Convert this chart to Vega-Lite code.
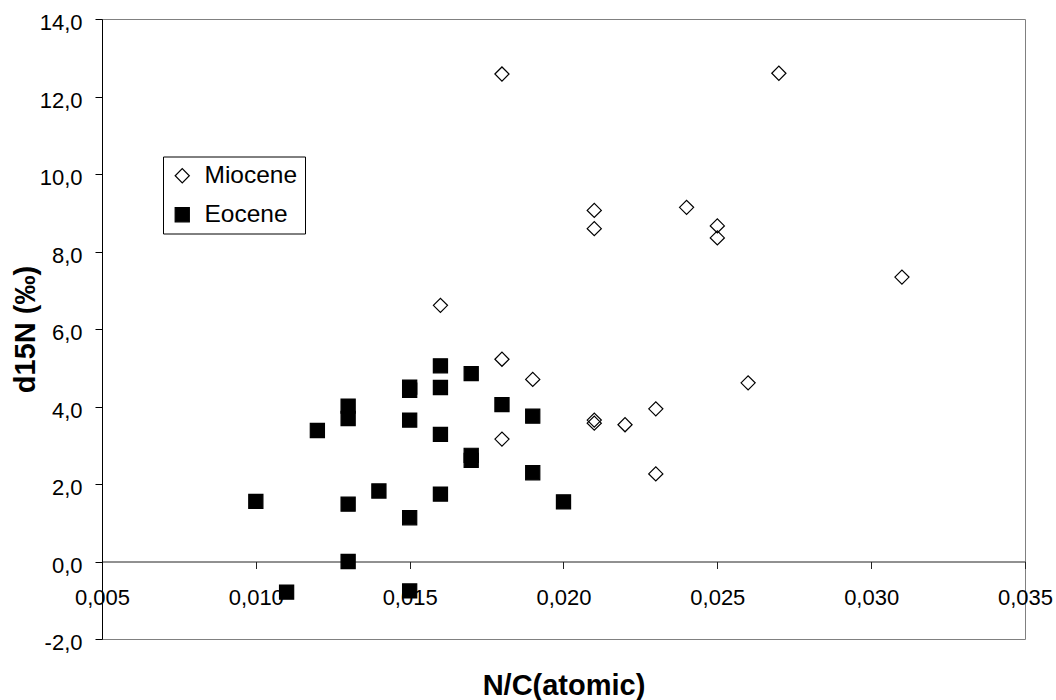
{
  "$schema": "https://vega.github.io/schema/vega-lite/v6.json",
  "width": 923,
  "height": 620,
  "autosize": {"type": "none"},
  "padding": {"left": 102, "top": 19, "right": 31, "bottom": 61},
  "config": {
    "locale": {"number": {"decimal": ",", "thousands": ".", "grouping": [3], "currency": ["", " €"], "minus": "-"}},
    "font": "Liberation Sans",
    "view": {"stroke": "#808080", "strokeWidth": 1},
    "axis": {"grid": false, "labelColor": "#000", "titleColor": "#000", "labelFont": "Liberation Sans", "titleFont": "Liberation Sans"},
    "legend": {
      "title": null,
      "orient": "none",
      "legendX": 61,
      "legendY": 137.5,
      "strokeColor": "#000",
      "fillColor": "#fff",
      "padding": 7,
      "labelFontSize": 24.5,
      "labelFont": "Liberation Sans",
      "labelColor": "#000",
      "labelOffset": 10,
      "rowPadding": 14,
      "symbolSize": 200,
      "symbolStrokeWidth": 1.2
    }
  },
  "data": {
    "values": [
      {"nc": 0.018, "d15n": 12.58, "epoch": "Miocene"},
      {"nc": 0.027, "d15n": 12.6, "epoch": "Miocene"},
      {"nc": 0.021, "d15n": 9.06, "epoch": "Miocene"},
      {"nc": 0.021, "d15n": 8.59, "epoch": "Miocene"},
      {"nc": 0.024, "d15n": 9.14, "epoch": "Miocene"},
      {"nc": 0.025, "d15n": 8.66, "epoch": "Miocene"},
      {"nc": 0.025, "d15n": 8.35, "epoch": "Miocene"},
      {"nc": 0.016, "d15n": 6.61, "epoch": "Miocene"},
      {"nc": 0.031, "d15n": 7.34, "epoch": "Miocene"},
      {"nc": 0.018, "d15n": 5.22, "epoch": "Miocene"},
      {"nc": 0.019, "d15n": 4.7, "epoch": "Miocene"},
      {"nc": 0.018, "d15n": 3.16, "epoch": "Miocene"},
      {"nc": 0.021, "d15n": 3.65, "epoch": "Miocene"},
      {"nc": 0.021, "d15n": 3.57, "epoch": "Miocene"},
      {"nc": 0.022, "d15n": 3.53, "epoch": "Miocene"},
      {"nc": 0.023, "d15n": 3.94, "epoch": "Miocene"},
      {"nc": 0.023, "d15n": 2.26, "epoch": "Miocene"},
      {"nc": 0.026, "d15n": 4.61, "epoch": "Miocene"},
      {"nc": 0.010, "d15n": 1.55, "epoch": "Eocene"},
      {"nc": 0.011, "d15n": -0.79, "epoch": "Eocene"},
      {"nc": 0.012, "d15n": 3.38, "epoch": "Eocene"},
      {"nc": 0.013, "d15n": 4.01, "epoch": "Eocene"},
      {"nc": 0.013, "d15n": 3.69, "epoch": "Eocene"},
      {"nc": 0.013, "d15n": 1.48, "epoch": "Eocene"},
      {"nc": 0.013, "d15n": 0.0, "epoch": "Eocene"},
      {"nc": 0.014, "d15n": 1.82, "epoch": "Eocene"},
      {"nc": 0.015, "d15n": 4.5, "epoch": "Eocene"},
      {"nc": 0.015, "d15n": 4.42, "epoch": "Eocene"},
      {"nc": 0.015, "d15n": 3.65, "epoch": "Eocene"},
      {"nc": 0.015, "d15n": 1.13, "epoch": "Eocene"},
      {"nc": 0.015, "d15n": -0.76, "epoch": "Eocene"},
      {"nc": 0.016, "d15n": 5.05, "epoch": "Eocene"},
      {"nc": 0.016, "d15n": 4.49, "epoch": "Eocene"},
      {"nc": 0.016, "d15n": 3.28, "epoch": "Eocene"},
      {"nc": 0.016, "d15n": 1.74, "epoch": "Eocene"},
      {"nc": 0.017, "d15n": 4.85, "epoch": "Eocene"},
      {"nc": 0.017, "d15n": 2.74, "epoch": "Eocene"},
      {"nc": 0.017, "d15n": 2.61, "epoch": "Eocene"},
      {"nc": 0.018, "d15n": 4.05, "epoch": "Eocene"},
      {"nc": 0.019, "d15n": 3.75, "epoch": "Eocene"},
      {"nc": 0.019, "d15n": 2.29, "epoch": "Eocene"},
      {"nc": 0.020, "d15n": 1.54, "epoch": "Eocene"}
    ]
  },
  "mark": {"type": "point", "filled": true, "strokeWidth": 1.2, "opacity": 1, "size": 200},
  "encoding": {
    "x": {
      "field": "nc", "type": "quantitative",
      "scale": {"domain": [0.005, 0.035], "nice": false, "zero": false},
      "axis": {
        "values": [0.005, 0.01, 0.015, 0.02, 0.025, 0.03, 0.035],
        "format": ".3f",
        "offset": -77.5,
        "labelFontSize": 22,
        "tickSize": 7,
        "labelPadding": 19,
        "labelFlush": false,
        "labelOverlap": false,
        "labelBound": false,
        "domainColor": "#222",
        "tickColor": "#222",
        "title": "N/C(atomic)",
        "titleFontSize": 29,
        "titleFontWeight": "bold",
        "titleBaseline": "alphabetic",
        "titleX": 461.5,
        "titleY": 133
      }
    },
    "y": {
      "field": "d15n", "type": "quantitative",
      "scale": {"domain": [-2, 14], "nice": false, "zero": false},
      "axis": {
        "values": [-2, 0, 2, 4, 6, 8, 10, 12, 14],
        "format": ".1f",
        "labelFontSize": 22,
        "tickSize": 7,
        "labelPadding": 13,
        "labelOffset": 3.5,
        "labelFlush": false,
        "labelOverlap": false,
        "domainColor": "#000",
        "tickColor": "#000",
        "title": "d15N (‰)",
        "titleFontSize": 29,
        "titleFontWeight": "bold",
        "titleBaseline": "alphabetic",
        "titleAngle": -90,
        "titleX": -68,
        "titleY": 310
      }
    },
    "shape": {
      "field": "epoch", "type": "nominal",
      "scale": {"domain": ["Miocene", "Eocene"], "range": ["diamond", "square"]}
    },
    "fill": {
      "field": "epoch", "type": "nominal",
      "scale": {"domain": ["Miocene", "Eocene"], "range": ["transparent", "#000"]}
    },
    "stroke": {
      "field": "epoch", "type": "nominal",
      "scale": {"domain": ["Miocene", "Eocene"], "range": ["#000", "#000"]}
    }
  }
}
